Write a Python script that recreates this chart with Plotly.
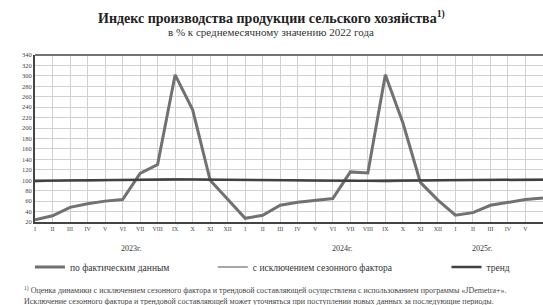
import plotly.graph_objects as go

months = ["I", "II", "III", "IV", "V", "VI", "VII", "VIII", "IX", "X", "XI", "XII"] * 2 + ["I", "II", "III", "IV", "V", "VI"]
years = ["2023г.", "2024г.", "2025г."]
year_pos = [5.5, 17.5, 25.5]

actual = [24, 32, 48, 55, 60, 63, 113, 130, 302, 235, 100, 63,
          27, 33, 52, 58, 62, 65, 116, 114, 302, 210, 96, 62,
          33, 38, 52, 58, 63, 66]
seas_adj = [97, 99, 100, 99, 100, 101, 101, 102, 103, 102, 101, 100,
            100, 101, 100, 100, 99, 99, 100, 98, 97, 98, 99, 100,
            100, 101, 101, 101, 101, 102]
trend = [99, 99.5, 100, 100.3, 100.6, 101, 101.3, 101.5, 101.6, 101.4, 101, 100.6,
         100.3, 100.1, 99.9, 99.7, 99.5, 99.3, 99.2, 99.2, 99.3, 99.5, 99.8, 100.1,
         100.3, 100.5, 100.7, 100.9, 101.0, 101.1]

x = list(range(len(actual)))
FONT = "Liberation Serif"

plot_top, plot_bottom, H = 55, 222, 305
ph = plot_bottom - plot_top


def py(px):
    """pixel row -> paper y coordinate"""
    return (plot_bottom - px) / ph


fig = go.Figure()
fig.add_trace(go.Scatter(x=x, y=actual, mode="lines", name="по фактическим данным",
                         line=dict(color="#717171", width=3), legend="legend"))
fig.add_trace(go.Scatter(x=x, y=seas_adj, mode="lines", name="с исключением сезонного фактора",
                         line=dict(color="#8a8a8a", width=1.5), legend="legend2"))
fig.add_trace(go.Scatter(x=x, y=trend, mode="lines", name="тренд",
                         line=dict(color="#404040", width=2.5), legend="legend3"))

annotations = [
    dict(text="<b>Индекс производства продукции сельского хозяйства<sup>1)</sup></b>",
         x=0.465, y=py(17), xref="paper", yref="paper", yanchor="middle", showarrow=False,
         font=dict(family=FONT, size=14, color="#222")),
    dict(text="в % к среднемесячному значению 2022 года",
         x=0.465, y=py(32), xref="paper", yref="paper", yanchor="middle", showarrow=False,
         font=dict(family=FONT, size=11, color="#333")),
    dict(text="<sup>1)</sup> Оценка динамики с исключением сезонного фактора и трендовой составляющей осуществлена с использованием программы «JDemetra+».<br>"
              "Исключение сезонного фактора и трендовой составляющей может уточняться при поступлении новых данных за последующие периоды.",
         x=-0.025, y=py(283), xref="paper", yref="paper", xanchor="left", yanchor="top",
         align="left", showarrow=False, font=dict(family=FONT, size=8, color="#444")),
]
for yl, xp in zip(years, year_pos):
    annotations.append(dict(text=yl, x=xp, y=py(248), xref="x", yref="paper", showarrow=False,
                            yanchor="middle", font=dict(family=FONT, size=8, color="#333")))

legend_common = dict(yanchor="middle", orientation="h", itemwidth=30,
                     font=dict(family=FONT, size=9.5, color="#333"), bgcolor="rgba(0,0,0,0)")

fig.update_layout(
    width=543, height=305,
    margin=dict(l=35, r=0, t=plot_top, b=H - plot_bottom),
    paper_bgcolor="white", plot_bgcolor="white",
    font=dict(family=FONT, size=6, color="#333"),
    annotations=annotations,
    showlegend=True,
    legend=dict(x=-0.01, y=py(267), xanchor="left", **legend_common),
    legend2=dict(x=0.35, y=py(267), xanchor="left", **legend_common),
    legend3=dict(x=0.81, y=py(267), xanchor="left", **legend_common),
)
fig.update_xaxes(range=[0, 29], tickmode="array", tickvals=x, ticktext=months,
                 showgrid=True, gridcolor="#d0d0d0", gridwidth=1,
                 showline=True, linecolor="#444", linewidth=1.5, mirror=False,
                 ticks="", tickfont=dict(family=FONT, size=6, color="#444"), zeroline=False)
fig.update_yaxes(range=[20, 340], dtick=20, showgrid=True, gridcolor="#d0d0d0", gridwidth=1,
                 showline=True, linecolor="#444", linewidth=2, mirror=False,
                 ticks="", tickfont=dict(family=FONT, size=6.5, color="#444"), zeroline=False)
fig.add_shape(type="line", xref="paper", yref="paper", x0=0, x1=1, y0=1, y1=1,
              line=dict(color="#444", width=1.5))

fig.write_html("out.html", config={"displayModeBar": False},
               post_script="document.body.style.margin='0';document.body.style.overflow='hidden';")
